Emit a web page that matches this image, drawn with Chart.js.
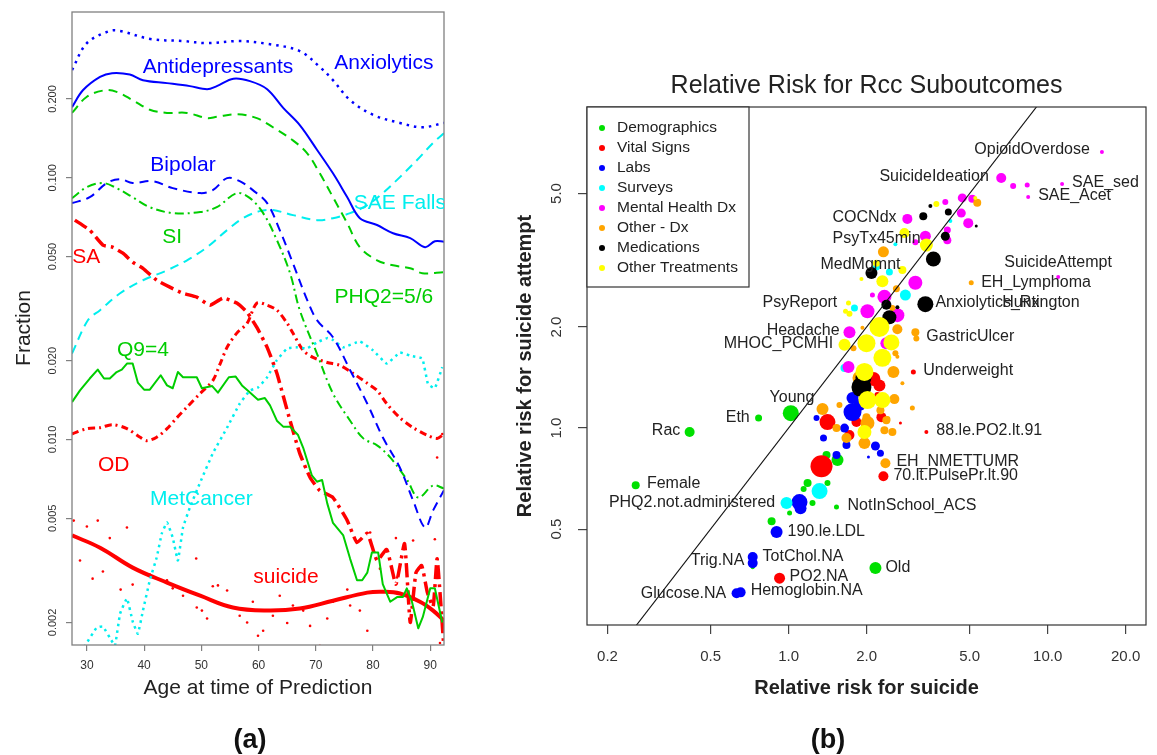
<!DOCTYPE html>
<html><head><meta charset="utf-8">
<script src="https://cdn.jsdelivr.net/npm/chart.js@4.4.0/dist/chart.umd.min.js"></script>
<style>
html,body{margin:0;padding:0;background:#fff;}
#wrap{position:relative;width:1157px;height:755px;overflow:hidden;background:#fff;}
canvas{position:absolute;left:0;top:0;}
</style></head><body>
<div id="wrap"><canvas id="c1" width="1157" height="755"></canvas><canvas id="c2" width="1157" height="755"></canvas></div>
<script>
// ---------------- Panel (a) data ----------------
const ageTicks = [30,40,50,60,70,80,90];
const fracTicks = [0.002,0.005,0.010,0.020,0.050,0.100,0.200];
const fracTickLabels = ['0.002','0.005','0.010','0.020','0.050','0.100','0.200'];

const anxAge = [27.4,30,34,35.8,41.1,46.8,51,56.7,61.5,67.2,70.7,73,76,80,84.7,88.6,92.4];
const anxVal = [0.258,0.327,0.364,0.364,0.339,0.333,0.327,0.333,0.325,0.305,0.265,0.236,0.198,0.174,0.162,0.156,0.162];

const antiAge = [27.4,29.3,32.3,34.4,37.5,39.8,44,48,51,52.7,55.6,58.5,61.5,64.3,67.2,70.2,73,75.5,77.7,80.7,83.5,86.5,89.1,90.8,92.4];
const antiVal = [0.186,0.216,0.243,0.251,0.248,0.236,0.230,0.224,0.218,0.224,0.239,0.234,0.218,0.185,0.159,0.128,0.104,0.0843,0.0701,0.066,0.0614,0.0588,0.0543,0.0572,0.057];

const phqAge = [27.4,30,33.1,35.2,38,41,44,47.5,51,52.7,56.2,59.7,62.5,66,68.5,70.7,73,75.5,77.7,80.7,83.5,86.5,88.6,92.4];
const phqVal = [0.177,0.204,0.216,0.213,0.198,0.182,0.177,0.177,0.169,0.171,0.175,0.169,0.156,0.139,0.124,0.104,0.0843,0.067,0.0543,0.0484,0.0463,0.0451,0.0432,0.0436];

const bipAge = [27.4,30.5,33.5,35.8,38,41.5,45,49.8,52,54.5,56.7,59,61.5,63.7,66,68.5,70.2,73,76,79,81.7,84.7,87,89.1,90.5,92.4];
const bipVal = [0.080,0.0843,0.0955,0.0988,0.0955,0.0971,0.0913,0.0874,0.0897,0.0997,0.0971,0.0897,0.080,0.0631,0.0472,0.0341,0.0286,0.0246,0.0184,0.0137,0.0102,0.0078,0.00585,0.00461,0.00536,0.0064];

const siAge = [27.4,30,32.8,35.2,38,41,45,49.8,52.7,56.2,58.5,60.8,63.2,65.5,67.2,70.2,73,76,78.3,80.7,83,86,87.9,90.5,92.4];
const siVal = [0.0836,0.0921,0.0955,0.0913,0.0843,0.0772,0.0733,0.074,0.0772,0.0874,0.0836,0.0733,0.0578,0.0432,0.0312,0.0213,0.015,0.0118,0.0101,0.0095,0.00854,0.00698,0.006,0.00667,0.0065];

const fallsAge = [27.4,30.2,32.3,35.8,39.8,44,47.5,51,54.5,57.3,60.2,62.5,66,70.2,73,76,79,81.7,84.7,87.7,90.5,92.4];
const fallsVal = [0.0213,0.0286,0.0312,0.0362,0.0406,0.0443,0.0484,0.0543,0.0631,0.0701,0.0746,0.0753,0.072,0.0689,0.0701,0.0733,0.0786,0.0874,0.1006,0.117,0.136,0.148];

const saAge = [27.9,30.5,32.8,34.5,36.3,38,39.8,42.2,44.5,46.8,49.2,51.5,53.8,56.2,58,59.7,61.5,63.2,65.5,67.2,69,70.7,73,75.5,77.2,79,80.7,82.4,84,85.5,86.5,87.5,88.5,89.5,90.5,91.2,92.3];
const saVal = [0.0689,0.0631,0.0553,0.0543,0.0515,0.0476,0.0451,0.0406,0.0382,0.0362,0.035,0.0326,0.0347,0.0332,0.0306,0.0268,0.0225,0.0179,0.0118,0.00885,0.00716,0.00638,0.006,0.0049,0.00404,0.00438,0.00345,0.0038,0.0028,0.0040,0.0020,0.0031,0.0033,0.0026,0.0023,0.0035,0.0017];

const odAge = [27.4,30,32.3,34.5,37,39.3,40.5,42.2,44,45.7,47.5,49.8,52,53.3,54.5,56.2,58,59.7,61.5,63.2,65,66,67.8,69.5,72,74.2,76.5,79,80.7,82.4,84.7,87,89.4,91.2,92.4];
const odVal = [0.0105,0.011,0.0111,0.0114,0.011,0.0102,0.0099,0.0102,0.011,0.0121,0.0133,0.015,0.0168,0.0195,0.0225,0.0255,0.0278,0.0332,0.0326,0.0312,0.0278,0.0255,0.0219,0.0206,0.0197,0.0192,0.0179,0.0164,0.0154,0.0137,0.0121,0.0111,0.0104,0.0101,0.0105];

const q9Age = [27.4,28.8,30.5,31.9,33,34,35.2,36.1,37,38,38.9,40,41,42.9,44,45,45.9,46.8,48,49.2,50.1,51.9,52.9,54.8,56,57.1,58.1,59.9,61.1,62,63.2,64.3,65.5,66.9,67.8,69.3,70.2,71.1,72,73,74.8,76,77.2,78.1,79,79.8,80.9,81.7,83,84.2,85.2,85.9,86.8,87.9,88.7,90,90.8,92.1];
const q9Val = [0.0139,0.0154,0.0171,0.0185,0.0171,0.0171,0.0181,0.0185,0.0195,0.0195,
  0.0165,0.0155,0.0155,0.0176,0.0161,0.0157,0.0181,0.0173,0.0173,0.0173,
  0.0157,0.0160,0.0151,0.0173,0.0174,0.0161,0.0154,0.0142,0.0144,0.0135,
  0.0118,0.0112,0.0112,0.0104,0.0093,0.0073,0.0069,0.0070,0.0057,0.0048,
  0.0043,0.0035,0.0029,0.0029,0.0031,0.0037,0.0037,0.0028,0.0024,0.0025,
  0.0025,0.0027,0.0024,0.0019,0.0021,0.0027,0.0027,0.0020];

const metAge = [28,29.7,31.7,32.8,34,34.9,35.8,37,38,38.9,39.8,41,42.2,43.1,44,45,45.9,46.8,48,49.8,52,54.5,56.7,58.5,59.9,61.5,63.2,65,66.7,68.5,70.2,72,73,74.8,77.7,80,82.4,84.7,86.5,88.6,89.6,90.8,92.1];
const metVal = [0.0013,0.00163,0.00191,0.00193,0.00175,0.00163,0.00216,0.00247,0.00202,0.00181,0.00222,0.0029,0.00354,0.00438,0.00482,0.00422,0.00345,0.00461,0.0055,0.00686,0.00885,0.0111,0.0137,0.0154,0.0158,0.0173,0.0201,0.0223,0.0225,0.0223,0.0235,0.0244,0.024,0.0225,0.0237,0.0219,0.0195,0.0215,0.0209,0.0204,0.0163,0.0157,0.0189];

const sucAge = [27.4,32.3,38,44,49.8,55.5,61.5,67.2,73,79,81.7,84.7,88.2,90.5,92.4];
const sucVal = [0.0043,0.00386,0.00324,0.00284,0.00253,0.00228,0.00222,0.00226,0.00242,0.0026,0.00262,0.00258,0.0024,0.00222,0.00203];

const rawAge = [27.7,30,31.9,37,28.8,32.8,31,34,35.9,38,41,44,45,46.8,49.1,49.2,50.1,51,52,52.9,54.5,56.7,58,59,59.9,60.8,62.5,63.7,65,66,67.8,69,70.7,72,73,75.5,76,77.7,79,79.5,81.2,84,84.2,87,90.8,91.7,91.2,92.1];
const rawVal = [0.0049,0.00465,0.0049,0.00461,0.00345,0.00313,0.00294,0.0042,0.00267,0.00279,0.00305,0.0029,0.0027,0.00253,0.00351,0.00228,0.00222,0.00207,0.00275,0.00277,0.00265,0.00212,0.002,0.0024,0.00178,0.00186,0.00212,0.00253,0.00199,0.00232,0.00222,0.00194,0.00163,0.00207,0.0024,0.00267,0.00232,0.00222,0.00186,0.00441,0.00321,0.0042,0.00297,0.00411,0.00416,0.00167,0.00854,0.0105];

const leftLabelText = ['Anxiolytics','Antidepressants','Bipolar','SI','SAE Falls','SA','PHQ2=5/6','Q9=4','OD','MetCancer','suicide'];
const leftLabelAge = [81.9,52.9,46.8,44.9,84.7,29.9,81.9,39.8,34.7,50,64.8];
const leftLabelVal = [0.275,0.265,0.112,0.0593,0.080,0.0497,0.0349,0.0219,0.00796,0.00594,0.00297];

// ---------------- Panel (b) data ----------------
const rrTicks = [0.2,0.5,1,2,5,10,20];
const rrTickLabels = ['0.2','0.5','1.0','2.0','5.0','10.0','20.0'];
const rraTicks = [0.5,1,2,5];
const rraTickLabels = ['0.5','1.0','2.0','5.0'];
const categories = ['Demographics','Vital Signs','Labs','Surveys','Mental Health Dx','Other - Dx','Medications','Other Treatments'];

const demoX = [1.02,0.766,0.415,0.257,1.531,0.860,2.164,1.401,1.545,1.413,1.184,1.237,1.009,1.143,0.727];
const demoY = [1.108,1.071,0.973,0.676,0.582,0.528,0.383,0.831,0.803,0.686,0.686,0.598,0.558,0.658,0.385];
const demoR = [8,3.5,5,4,2.5,4,6,4,6,3,4,3,2.5,3,2];

const vitX = [3.032,3.403,2.323,0.923,1.340,1.413,2.126,2.203,2.282,1.828,1.718,2.702,2.242];
const vitY = [1.47,0.973,0.719,0.357,0.770,1.042,1.40,1.254,1.078,1.042,0.953,1.035,1.34];
const vitR = [2.5,2,5,5.5,11,8,7,3,5,5,5,1.5,6];

const labX = [0.899,0.727,0.727,0.630,0.653,1.765,1.878,1.765,1.282,1.644,1.364,1.673,2.164,2.262,2.034,1.531,1.102,1.112];
const labY = [0.490,0.413,0.396,0.322,0.324,1.116,1.171,1.229,1.071,1.0,0.934,0.890,0.884,0.842,0.820,0.831,0.602,0.577];
const labR = [6,5,5,5,5,9,6,6,3,4.5,3.5,4,4.5,3.5,1.5,4,8,6];

const survX = [0.982,1.317,1.644,2.824,2.45,2.183,1.796,2.584,4.211];
const survY = [0.598,0.649,1.51,2.49,2.92,3.02,2.28,3.53,4.14];
const survR = [6,8,4,5.5,3.5,3.5,3.5,2,2];

const mentX = [16.2,6.62,7.36,8.34,8.41,11.37,10.98,2.874,4.683,5.117,4.027,4.642,4.938,4.10,4.10,3.373,3.086,3.086,2.344,2.016,2.63,2.107,1.718,2.385,1.703];
const mentY = [6.65,5.56,5.26,5.30,4.88,5.34,2.82,4.20,4.85,4.82,4.72,4.37,4.08,3.89,3.63,3.73,3.58,2.71,2.46,2.23,2.17,2.49,1.93,1.79,1.52];
const mentR = [2,5,3,2.5,2,2,2,5,4.5,4,3,4.5,5,3.5,4,5.5,3,7,7,7,7,2.5,6,6,6];

const odxX = [5.071,2.365,3.086,3.113,5.349,2.323,2.607,1.928,2.516,2.63,1.78,2.584,2.63,1.878,2.539,2.75,2.561,2.262,1.572,3.005,1.352,1.531,1.998,2.016,2.385,2.516,2.344,1.673,1.963,2.407];
const odxY = [2.71,0.786,1.93,1.85,4.69,3.35,2.60,1.99,2.28,1.97,1.73,1.67,1.63,1.41,1.47,1.36,1.22,1.131,1.171,1.147,1.139,1.0,1.078,1.035,1.056,0.973,0.986,0.934,0.902,1.064];
const odxR = [2.5,5,4,3,4,5.5,3.5,2,3,5,3,3,2,7,6,2,5,4,3,2.5,6,4,4,7,4,4,4,5,6,3];

const medX = [3.311,3.526,4.137,4.027,3.622,2.089,3.373,2.45,2.385,2.63,5.302,1.911,1.945];
const medY = [4.28,4.59,4.40,3.73,3.19,2.90,2.34,2.14,2.33,2.29,4.00,1.325,1.41];
const medR = [4,2,3.5,4.5,7.5,6,8,7,5,2,1.5,10,8];

const otX = [3.719,5.255,2.80,3.403,2.302,2.75,1.911,2.183,1.703,1.718,1.659,2.242,1.998,2.494,1.644,2.302,1.963,2.016,2.302,1.963];
const otY = [4.65,4.85,3.81,3.51,2.74,2.96,2.78,3.10,2.36,2.19,2.23,2.0,1.79,1.80,1.77,1.62,1.47,1.212,1.212,0.973];
const otR = [3,2,5,6.5,6,4,2,3.5,2.5,3,2.5,10,9,8,6,9,9,9,8,7];

const ptLabelText = ['OpioidOverdose','SuicideIdeation','SAE_sed','SAE_Acet','COCNdx','PsyTx45min','MedMgmnt','SuicideAttempt','EH_Lymphoma','Huntington','Anxiolytics_Rx','PsyReport','Headache','MHOC_PCMHI','GastricUlcer','Underweight','Young','Eth','Rac','88.le.PO2.lt.91','EH_NMETTUMR','70.lt.PulsePr.lt.90','Female','PHQ2.not.administered','NotInSchool_ACS','190.le.LDL','TotChol.NA','Trig.NA','Old','PO2.NA','Glucose.NA','Hemoglobin.NA'];
const ptLabelX = [5.21,2.242,12.43,9.19,1.478,1.478,1.328,6.80,5.54,6.68,3.687,0.794,0.823,0.562,3.40,3.31,0.845,0.572,0.2966,3.719,2.607,2.539,0.284,0.2025,1.688,0.991,0.794,0.419,2.365,1.009,0.269,0.714];
const ptLabelY = [6.74,5.60,5.37,4.92,4.23,3.66,3.08,3.12,2.71,2.37,2.36,2.37,1.946,1.78,1.867,1.479,1.229,1.078,0.9796,0.986,0.792,0.724,0.681,0.598,0.589,0.49,0.413,0.404,0.383,0.36,0.322,0.329];

// ---------------- helpers ----------------
const FONT = '"Liberation Sans", Arial, Helvetica, sans-serif';
function txt(ctx, s, x, y, size, color, align, bold, rot, base) {
  ctx.save();
  ctx.font = (bold ? 'bold ' : '') + size + 'px ' + FONT;
  ctx.fillStyle = color;
  ctx.textAlign = align || 'center';
  ctx.textBaseline = base || 'middle';
  ctx.translate(x, y);
  if (rot) ctx.rotate(rot);
  ctx.fillText(s, 0, 0);
  ctx.restore();
}
const pts = (xs, ys) => xs.map((v, i) => ({x: v, y: ys[i]}));
const bub = (xs, ys, rs) => xs.map((v, i) => ({x: v, y: ys[i], r: rs[i]}));

const BLUE = '#0000ff', GREEN = '#00cd00', CYAN = '#00eeee', RED = '#ff0000';
const leftLabelColor = [BLUE, BLUE, BLUE, GREEN, CYAN, RED, GREEN, GREEN, RED, CYAN, RED];

function lineDs(ages, vals, color, width, dash, tension) {
  return {data: pts(ages, vals), borderColor: color, borderWidth: width, borderDash: dash,
    pointRadius: 0, fill: false, tension: tension, borderCapStyle: 'butt', borderJoinStyle: 'round'};
}

// ---------------- Panel (a) ----------------
const leftDeco = {
  id: 'leftDeco',
  afterDraw(chart) {
    const {ctx, chartArea: a} = chart;
    const x = chart.scales.x, y = chart.scales.y;
    ctx.save();
    ctx.strokeStyle = '#808080'; ctx.lineWidth = 1.3;
    ctx.strokeRect(a.left, a.top, a.right - a.left, a.bottom - a.top);
    ctx.restore();
    ageTicks.forEach(v => txt(ctx, String(v), x.getPixelForValue(v), 666, 12, '#333'));
    fracTicks.forEach((v, i) => txt(ctx, fracTickLabels[i], 53, y.getPixelForValue(v), 11, '#333', 'center', false, -Math.PI / 2));
    txt(ctx, 'Fraction', 24, 328, 21, '#222', 'center', false, -Math.PI / 2);
    txt(ctx, 'Age at time of Prediction', 258, 688, 21, '#222');
    txt(ctx, '(a)', 250, 741, 27, '#111', 'center', true);
    ctx.save();
    ctx.beginPath(); ctx.rect(a.left, a.top, a.right - a.left, a.bottom - a.top); ctx.clip();
    leftLabelText.forEach((s, i) => txt(ctx, s, x.getPixelForValue(leftLabelAge[i]), y.getPixelForValue(leftLabelVal[i]), 21, leftLabelColor[i]));
    ctx.restore();
  }
};

new Chart(document.getElementById('c1'), {
  type: 'line',
  data: {datasets: [
    lineDs(anxAge, anxVal, BLUE, 2.5, [2.5, 5], 0.35),
    lineDs(antiAge, antiVal, BLUE, 2, [], 0.35),
    lineDs(phqAge, phqVal, GREEN, 2, [9, 6], 0.35),
    lineDs(bipAge, bipVal, BLUE, 2, [9, 6], 0.35),
    lineDs(siAge, siVal, GREEN, 2, [9, 4, 2, 4], 0.35),
    lineDs(fallsAge, fallsVal, CYAN, 2, [9, 6], 0.35),
    lineDs(metAge, metVal, CYAN, 2.5, [2.5, 4], 0.1),
    lineDs(q9Age, q9Val, GREEN, 2, [], 0),
    lineDs(odAge, odVal, RED, 3, [7, 4, 2, 4], 0.3),
    lineDs(saAge, saVal, RED, 3.5, [14, 5, 3, 5], 0.15),
    lineDs(sucAge, sucVal, RED, 4, [], 0.4),
    {type: 'scatter', data: pts(rawAge, rawVal), showLine: false, pointRadius: 1.3, pointBorderWidth: 0,
      backgroundColor: RED, borderColor: RED}
  ]},
  options: {
    responsive: false, animation: false, devicePixelRatio: 1, events: [],
    layout: {padding: {left: 0, top: 12, right: 1157 - 444, bottom: 0}},
    plugins: {legend: {display: false}, tooltip: {enabled: false}, title: {display: false}},
    scales: {
      x: {type: 'linear', min: 27.4, max: 92.4,
        afterFit(s) { s.height = 110; },
        afterBuildTicks(s) { s.ticks = ageTicks.map(v => ({value: v})); },
        grid: {drawOnChartArea: false, drawTicks: true, tickLength: 6, color: '#808080', lineWidth: 1.2},
        border: {display: false}, ticks: {display: false}},
      y: {type: 'logarithmic', min: 0.00164, max: 0.43,
        afterFit(s) { s.width = 72; },
        afterBuildTicks(s) { s.ticks = fracTicks.map(v => ({value: v})); },
        grid: {drawOnChartArea: false, drawTicks: true, tickLength: 6, color: '#808080', lineWidth: 1.2},
        border: {display: false}, ticks: {display: false}}
    }
  },
  plugins: [leftDeco]
});

// ---------------- Panel (b) ----------------
const catColors = ['#00e000', '#ff0000', '#0000ff', '#00ffff', '#ff00ff', '#ffa500', '#000000', '#ffff00'];

const rightDeco = {
  id: 'rightDeco',
  afterDraw(chart) {
    const {ctx, chartArea: a} = chart;
    const x = chart.scales.x, y = chart.scales.y;
    ctx.save();
    ctx.strokeStyle = '#333'; ctx.lineWidth = 1.2;
    ctx.strokeRect(a.left, a.top, a.right - a.left, a.bottom - a.top);
    ctx.restore();
    rrTicks.forEach((v, i) => txt(ctx, rrTickLabels[i], x.getPixelForValue(v), 657, 15, '#333'));
    rraTicks.forEach((v, i) => txt(ctx, rraTickLabels[i], 557, y.getPixelForValue(v), 15, '#333', 'center', false, -Math.PI / 2));
    txt(ctx, 'Relative Risk for Rcc Suboutcomes', (a.left + a.right) / 2, 93, 25, '#222', 'center', false, 0, 'alphabetic');
    txt(ctx, 'Relative risk for suicide', (a.left + a.right) / 2, 688, 20, '#222', 'center', true);
    txt(ctx, 'Relative risk for suicide attempt', 525, (a.top + a.bottom) / 2, 20, '#222', 'center', true, -Math.PI / 2);
    txt(ctx, '(b)', 828, 741, 27, '#111', 'center', true);
    // point labels
    ptLabelText.forEach((s, i) => txt(ctx, s, x.getPixelForValue(ptLabelX[i]), y.getPixelForValue(ptLabelY[i]), 16, '#222', 'left'));
    // legend
    ctx.save();
    ctx.fillStyle = '#fff';
    ctx.fillRect(a.left, a.top, 162, 180);
    ctx.strokeStyle = '#333'; ctx.lineWidth = 1.2;
    ctx.strokeRect(a.left, a.top, 162, 180);
    categories.forEach((c, i) => {
      const yy = a.top + 21 + i * 20;
      ctx.beginPath(); ctx.fillStyle = catColors[i];
      ctx.arc(a.left + 15, yy, 3, 0, Math.PI * 2); ctx.fill();
      txt(ctx, c, a.left + 30, yy, 15.5, '#222', 'left');
    });
    ctx.restore();
  }
};

function bubDs(xs, ys, rs, color, order) {
  return {data: bub(xs, ys, rs), backgroundColor: color, borderWidth: 0, hoverRadius: 0, order: order};
}

new Chart(document.getElementById('c2'), {
  type: 'bubble',
  data: {datasets: [
    {type: 'line', data: [{x: 0.1, y: 0.1}, {x: 30, y: 30}], borderColor: '#111', borderWidth: 1.1,
      pointRadius: 0, fill: false, order: 0},
    bubDs(demoX, demoY, demoR, catColors[0], 8),
    bubDs(vitX, vitY, vitR, catColors[1], 7),
    bubDs(labX, labY, labR, catColors[2], 6),
    bubDs(survX, survY, survR, catColors[3], 5),
    bubDs(mentX, mentY, mentR, catColors[4], 4),
    bubDs(odxX, odxY, odxR, catColors[5], 3),
    bubDs(medX, medY, medR, catColors[6], 2),
    bubDs(otX, otY, otR, catColors[7], 1)
  ]},
  options: {
    responsive: false, animation: false, devicePixelRatio: 1, events: [],
    layout: {padding: {left: 0, top: 107, right: 10, bottom: 0}},
    plugins: {legend: {display: false}, tooltip: {enabled: false}, title: {display: false}},
    scales: {
      x: {type: 'logarithmic', min: 0.1667, max: 23.97,
        afterFit(s) { s.height = 130; },
        afterBuildTicks(s) { s.ticks = rrTicks.map(v => ({value: v})); },
        grid: {drawOnChartArea: false, drawTicks: true, tickLength: 9, color: '#444', lineWidth: 1.2},
        border: {display: false}, ticks: {display: false}},
      y: {type: 'logarithmic', min: 0.259, max: 9.05,
        afterFit(s) { s.width = 587; },
        afterBuildTicks(s) { s.ticks = rraTicks.map(v => ({value: v})); },
        grid: {drawOnChartArea: false, drawTicks: true, tickLength: 9, color: '#444', lineWidth: 1.2},
        border: {display: false}, ticks: {display: false}}
    }
  },
  plugins: [rightDeco]
});
</script>
</body></html>
